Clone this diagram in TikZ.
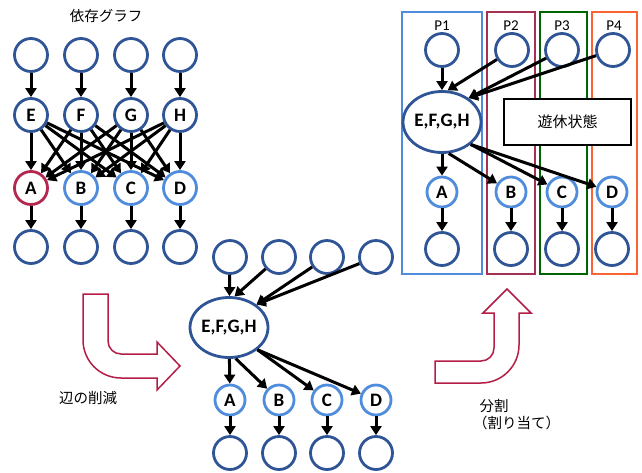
\documentclass[tikz,border=0pt]{standalone}
\usepackage{fontspec}
\setmainfont{Carlito}
\newfontfamily\jp{Noto Sans CJK JP}
\usetikzlibrary{arrows.meta,shapes.geometric}
\definecolor{dkblue}{RGB}{47,85,151}
\definecolor{ltblue}{RGB}{80,140,220}
\definecolor{redA}{RGB}{180,40,80}
\definecolor{boxtwo}{RGB}{165,50,85}
\definecolor{boxthree}{RGB}{0,100,0}
\definecolor{boxfour}{RGB}{250,100,50}
\definecolor{uarrow}{RGB}{180,30,70}
\begin{document}
\begin{tikzpicture}[x=1pt,y=-1pt,
  circ/.style={circle,draw=dkblue,line width=2.8pt,minimum size=33pt,inner sep=0pt,fill=white,
    font=\fontsize{19}{20}\selectfont\bfseries},
  smallcirc/.style={circ,minimum size=30pt},
  ell/.style={ellipse,draw=dkblue,line width=2.8pt,minimum width=70pt,minimum height=60pt,inner sep=0pt,fill=white,
    font=\fontsize{19}{20}\selectfont\bfseries},
  arr/.style={line width=3pt,-{Triangle[length=9pt,width=11pt]}},
  pbox/.style={line width=2.8pt},
  jtext/.style={font=\jp\fontsize{14.5}{17}\selectfont},
  blockarrow/.style={draw=uarrow,line width=1.5pt,fill=white,line join=miter}
]
\useasboundingbox (0,0) rectangle (642,472);

% ---------- left graph ----------
\node[jtext] (title) at (106,16) {依存グラフ};
\foreach \n/\x in {1/31,2/81,3/131,4/180}{
  \node[circ] (lt\n) at (\x,55) {};
  \node[circ] (lb\n) at (\x,247) {};
}
\node[circ] (E) at (31,115) {E};
\node[circ] (F) at (81,115) {F};
\node[circ] (G) at (131,115) {G};
\node[circ] (H) at (180,115) {H};
\node[circ,draw=redA] (A) at (31,188) {A};
\node[circ,draw=ltblue] (B) at (81,188) {B};
\node[circ,draw=ltblue] (C) at (131,188) {C};
\node[circ,draw=ltblue] (D) at (180,188) {D};
\foreach \s/\t in {lt1/E,lt2/F,lt3/G,lt4/H,A/lb1,B/lb2,C/lb3,D/lb4}
  \draw[arr] (\s) -- (\t);
\foreach \s in {E,F,G,H}
  \foreach \t in {A,B,C,D}
    \draw[arr] (\s) -- (\t);

% ---------- block arrows ----------
\draw[blockarrow] (83,294) -- (108,294) -- (108,341)
  .. controls (108,348.2) and (113.8,354) .. (121,354) -- (157,354) -- (157,342)
  -- (180,366) -- (157,390) -- (157,378) -- (121,378)
  .. controls (100,378) and (83,361) .. (83,340) -- cycle;
\node[jtext] (reduce) at (88,398) {辺の削減};

\draw[blockarrow] (435,361) -- (481,361)
  .. controls (488.2,361) and (494,355.2) .. (494,348) -- (494,313) -- (483,313)
  -- (507,289) -- (531,313) -- (519,313) -- (519,345)
  .. controls (519,366) and (502,383) .. (481,383) -- (435,383) -- cycle;
\node[jtext,anchor=west,align=left] (split) at (476,415) {分割\\\hspace*{-0.45em}（割り当て）};

% ---------- middle graph ----------
\foreach \n/\x in {1/230,2/279,3/327,4/376}{
  \node[circ] (mt\n) at (\x,257) {};
  \node[circ] (mb\n) at (\x,453) {};
}
\node[ell] (mE) at (229,327.5) {E,F,G,H};
\node[smallcirc,draw=ltblue] (mA) at (230,400) {A};
\node[smallcirc,draw=ltblue] (mB) at (279,400) {B};
\node[smallcirc,draw=ltblue] (mC) at (327,400) {C};
\node[smallcirc,draw=ltblue] (mD) at (376,400) {D};
\draw[arr] (mt1) -- (mE);
\draw[arr] (mt2) -- (mE.80);
\draw[arr] (mt3) -- (mE.40);
\draw[arr] (mt4) -- (mE.40);
\draw[arr] (mE) -- (mA);
\draw[arr] (mE.-78) -- (mB);
\draw[arr] (mE.-38) -- (mC);
\draw[arr] (mE.-38) -- (mD);
\foreach \n/\t in {A/1,B/2,C/3,D/4}
  \draw[arr] (m\n) -- (mb\t);

% ---------- right graph ----------
\draw[pbox,draw=ltblue] (402,12) rectangle (482,274);
\draw[pbox,draw=boxtwo] (487,12) rectangle (535,274);
\draw[pbox,draw=boxthree] (540,12) rectangle (587,274);
\draw[pbox,draw=boxfour] (592,12) rectangle (637,274);
\node[font=\fontsize{15}{16}\selectfont] (p1) at (442,26) {P1};
\node[font=\fontsize{15}{16}\selectfont] (p2) at (511,26) {P2};
\node[font=\fontsize{15}{16}\selectfont] (p3) at (562,26) {P3};
\node[font=\fontsize{15}{16}\selectfont] (p4) at (614,26) {P4};
\node[draw,line width=2.2pt,fill=white,minimum width=127pt,minimum height=46pt,
  font=\jp\fontsize{15}{17}\selectfont] (idle) at (567.5,122) {遊休状態};
\foreach \n/\x in {1/442,2/512,3/562,4/613}{
  \node[circ] (rt\n) at (\x,50) {};
}
\foreach \n/\x in {1/442,2/511,3/562,4/612}{
  \node[circ] (rb\n) at (\x,249) {};
}
\node[ell,minimum height=61pt] (rE) at (442,122) {E,F,G,H};
\node[smallcirc,draw=ltblue] (rA) at (442,192) {A};
\node[smallcirc,draw=ltblue] (rB) at (511,192) {B};
\node[smallcirc,draw=ltblue] (rC) at (562,192) {C};
\node[smallcirc,draw=ltblue] (rD) at (612,192) {D};
\draw[arr] (rt1) -- (rE);
\draw[arr] (rt2) -- (rE.80);
\draw[arr] (rt3) -- (rE.42);
\draw[arr] (rt4) -- (rE.42);
\draw[arr] (rE) -- (rA);
\draw[arr] (rE.-78) -- (rB);
\draw[arr] (rE.-38) -- (rC);
\draw[arr] (rE.-38) -- (rD);
\foreach \n/\t in {A/1,B/2,C/3,D/4}
  \draw[arr] (r\n) -- (rb\t);
\end{tikzpicture}
\end{document}
